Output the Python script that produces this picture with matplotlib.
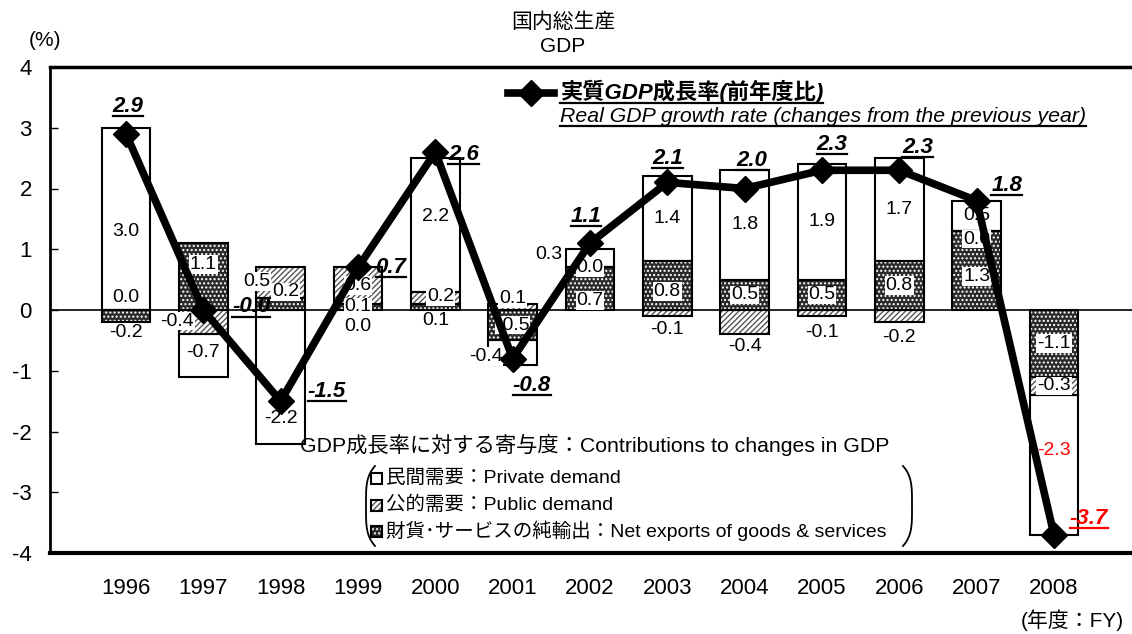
import matplotlib
matplotlib.use('Agg')
import matplotlib.pyplot as plt
import numpy as np
from matplotlib.lines import Line2D
from matplotlib.patches import Rectangle
from matplotlib.transforms import IdentityTransform

plt.rcParams['font.family'] = ['Liberation Sans', 'Noto Sans CJK JP', 'DejaVu Sans']
plt.rcParams['hatch.linewidth'] = 1.0
plt.rcParams['axes.unicode_minus'] = False

# data (contributions, % points)
years = ['1996', '1997', '1998', '1999', '2000', '2001', '2002',
         '2003', '2004', '2005', '2006', '2007', '2008']
private = [3.0, -0.7, -2.2, 0.0, 2.2, -0.4, 0.3, 1.4, 1.8, 1.9, 1.7, 0.5, -2.3]
public = [0.0, -0.4, 0.5, 0.6, 0.2, 0.1, 0.0, -0.1, -0.4, -0.1, -0.2, 0.0, -0.3]
net_exports = [-0.2, 1.1, 0.2, 0.1, 0.1, -0.5, 0.7, 0.8, 0.5, 0.5, 0.8, 1.3, -1.1]
gdp = [2.9, -0.0, -1.5, 0.7, 2.6, -0.8, 1.1, 2.1, 2.0, 2.3, 2.3, 1.8, -3.7]

# label offsets for growth-rate figures (pixels, right/up)
gdp_offsets = [(2, 27), (48, 3), (46, 10), (33, 0), (28, -2), (19, -27), (-4, 27),
               (0, 24), (7, 28), (10, 26), (18, 23), (30, 15), (35, 16)]
# nudges of segment labels away from segment centres (pixels, right/up)
nudges = {
    (0, 'net'): (0, -16), (0, 'pub'): (0, 13), (0, 'priv'): (0, -13),
    (1, 'net'): (0, 12), (1, 'pub'): (-26, 1), (1, 'priv'): (0, 3),
    (2, 'net'): (5, 12), (2, 'pub'): (-24, 1), (2, 'priv'): (0, -42),
    (3, 'priv'): (0, -59),
    (4, 'net'): (0, -14), (4, 'pub'): (5, 1), (4, 'priv'): (0, 8),
    (5, 'pub'): (0, 8), (5, 'priv'): (-27, -4),
    (6, 'net'): (0, -12), (6, 'priv'): (-41, 4),
    (7, 'net'): (0, -6), (7, 'pub'): (0, -16),
    (8, 'pub'): (0, -24),
    (9, 'pub'): (0, -19),
    (10, 'pub'): (0, -21),
    (11, 'net'): (0, -6), (11, 'pub'): (0, -8),
    (12, 'priv'): (0, 14),
}

W, H = 1132, 634
fig = plt.figure(figsize=(W / 100, H / 100), dpi=100)
ax = fig.add_axes([50 / W, (H - 553) / H, (1150 - 50) / W, (553 - 67) / H])

x = np.arange(len(years))
bw = 0.63

pos_base = np.zeros(len(years))
neg_base = np.zeros(len(years))
labels = []
for series, kind in [(net_exports, 'net'), (public, 'pub'), (private, 'priv')]:
    vals = np.array(series)
    bottoms = np.where(vals >= 0, pos_base, neg_base)
    if kind == 'net':
        ax.bar(x, vals, bw, bottom=bottoms, color='#2a2a2a', edgecolor='white',
               hatch='....', linewidth=0, zorder=2)
    elif kind == 'pub':
        ax.bar(x, vals, bw, bottom=bottoms, color='white', edgecolor='#555555',
               hatch='//////', linewidth=0, zorder=2)
    else:
        ax.bar(x, vals, bw, bottom=bottoms, color='white', linewidth=0, zorder=2)
    ax.bar(x, vals, bw, bottom=bottoms, fill=False, edgecolor='black',
           linewidth=1.5, zorder=3)
    for i, v in enumerate(vals):
        labels.append((i, bottoms[i] + v / 2, v, kind))
    pos_base = pos_base + np.where(vals >= 0, vals, 0)
    neg_base = neg_base + np.where(vals < 0, vals, 0)

ax.axhline(0, color='black', linewidth=1.2, zorder=1)

for i, yc, v, kind in labels:
    col = 'red' if (kind == 'priv' and years[i] == '2008') else 'black'
    dx, dy = nudges.get((i, kind), (0, 0))
    ax.annotate(f'{v:.1f}', (x[i], yc), xytext=(dx * 0.72, dy * 0.72),
                textcoords='offset points', ha='center', va='center',
                fontsize=14, color=col, zorder=4,
                bbox=dict(facecolor='white', edgecolor='none', pad=0.6))

ax.plot(x, gdp, color='black', linewidth=5.5, marker='D', markersize=13, zorder=5)

gdp_texts = []
for i, v in enumerate(gdp):
    col = 'red' if years[i] == '2008' else 'black'
    dx, dy = gdp_offsets[i]
    t = ax.annotate(f'{v:.1f}', (x[i], v), xytext=(dx * 0.72, dy * 0.72),
                    textcoords='offset points', ha='center', va='center',
                    fontsize=16, fontweight='bold', fontstyle='italic',
                    color=col, zorder=6)
    gdp_texts.append(t)

ax.set_xlim((50 - 126) / 77.33, (1150 - 126) / 77.33)
ax.set_ylim(-4, 4)
ax.set_yticks(range(-4, 5))
ax.set_xticks(x)
ax.set_xticklabels(years)
ax.tick_params(axis='y', direction='in', length=6, width=1, labelsize=16, pad=13)
ax.tick_params(axis='x', length=0, labelsize=16, pad=18)
ax.spines['right'].set_visible(False)
ax.spines['left'].set_linewidth(2)
ax.spines['top'].set_linewidth(2.5)
ax.spines['bottom'].set_linewidth(3)


def px(xp, yp):
    return xp / W, 1 - yp / H


fig.text(*px(563, 22), '国内総生産', ha='center', va='center', fontsize=15)
fig.text(*px(563, 46), 'GDP', ha='center', va='center', fontsize=15)
fig.text(*px(45, 40), '(%)', ha='center', va='center', fontsize=15)
fig.text(*px(1072, 620), '(年度：FY)', ha='center', va='center', fontsize=15)

# growth-rate legend
fig.add_artist(Line2D([508 / W, 531 / W, 554 / W], [1 - 93 / H] * 3, color='black',
                      linewidth=5.5, marker='D', markersize=13, markevery=[1],
                      transform=fig.transFigure))
leg1 = fig.text(*px(560, 92), '実質GDP成長率(前年度比)', ha='left', va='center',
                fontsize=16, fontweight='bold', fontstyle='italic')
leg2 = fig.text(*px(560, 117), 'Real GDP growth rate (changes from the previous year)',
                ha='left', va='center', fontsize=15.3, fontstyle='italic')

# contributions legend
fig.text(*px(300, 445), 'GDP成長率に対する寄与度：Contributions to changes in GDP',
         ha='left', va='center', fontsize=15.3)
entries = [('民間需要：Private demand', 'white', None, None),
           ('公的需要：Public demand', 'white', '#555555', '//////'),
           ('財貨･サービスの純輸出：Net exports of goods & services', '#2a2a2a', 'white', '....')]
for k, (txt, fc, hc, hatch) in enumerate(entries):
    yc = 478 + k * 26.5
    if hatch:
        fig.add_artist(Rectangle(px(371, yc + 6), 11 / W, 11 / H, facecolor=fc,
                                 edgecolor=hc, hatch=hatch, linewidth=0,
                                 transform=fig.transFigure))
    fig.add_artist(Rectangle(px(371, yc + 6), 11 / W, 11 / H, fill=False,
                             edgecolor='black', linewidth=1.5,
                             transform=fig.transFigure))
    fig.text(*px(386, yc), txt, ha='left', va='center', fontsize=14)

# brackets
t = np.linspace(0, 1, 30)
yb = 466 + t * 80
xl = 366 + 9 * (2 * t - 1) ** 4
xr = 912 - 9 * (2 * t - 1) ** 4
fig.add_artist(Line2D(xl / W, 1 - yb / H, color='black', linewidth=1.3,
                      transform=fig.transFigure))
fig.add_artist(Line2D(xr / W, 1 - yb / H, color='black', linewidth=1.3,
                      transform=fig.transFigure))

# underlines
fig.canvas.draw()
rend = fig.canvas.get_renderer()
for tt in gdp_texts + [leg1, leg2]:
    bb = tt.get_window_extent(rend)
    fig.add_artist(Line2D([bb.x0, bb.x1], [bb.y0 + 1, bb.y0 + 1], color=tt.get_color(),
                          linewidth=1.6, transform=IdentityTransform()))

fig.savefig('out.png', dpi=100)
